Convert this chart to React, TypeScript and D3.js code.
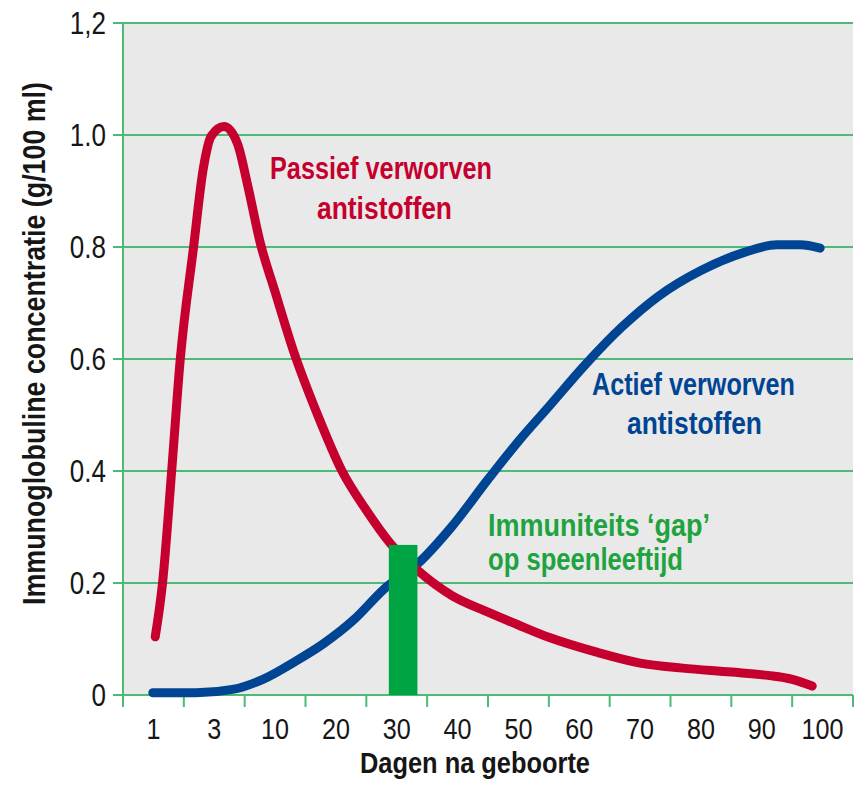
import * as d3 from "d3";

// x positions are in band units along the day axis (0 = left edge of "1", 12 = right edge of "100")
const dayLabels = ["1", "3", "10", "20", "30", "40", "50", "60", "70", "80", "90", "100"];
const yTicks = [0, 0.2, 0.4, 0.6, 0.8, 1.0, 1.2];
const yTickLabels = ["0", "0.2", "0.4", "0.6", "0.8", "1.0", "1,2"];

const passief: [number, number][] = [
  [0.53, 0.104], [0.65, 0.2], [0.8, 0.4], [0.94, 0.598], [1.16, 0.8], [1.32, 0.94],
  [1.45, 0.998], [1.66, 1.015], [1.88, 0.985], [2.05, 0.91], [2.25, 0.81], [2.5, 0.72],
  [2.8, 0.615], [3.2, 0.5], [3.6, 0.4], [4.0, 0.33], [4.4, 0.27], [4.85, 0.222],
  [5.4, 0.178], [6.0, 0.148], [6.5, 0.125], [7.0, 0.103], [7.8, 0.076], [8.5, 0.057],
  [9.2, 0.048], [10.0, 0.041], [10.6, 0.035], [11.0, 0.028], [11.33, 0.016],
];

const actief: [number, number][] = [
  [0.49, 0.004], [1.2, 0.004], [1.8, 0.01], [2.3, 0.028], [2.8, 0.058], [3.3, 0.092],
  [3.8, 0.135], [4.3, 0.19], [4.85, 0.235], [5.4, 0.3], [6.0, 0.385], [6.5, 0.453],
  [7.0, 0.515], [7.6, 0.59], [8.2, 0.657], [8.8, 0.712], [9.5, 0.758], [10.2, 0.79],
  [10.75, 0.804], [11.13, 0.804], [11.46, 0.798],
];

const gapStart = 4.37;
const gapEnd = 4.84;
const gapValue = 0.268;

const RED = "#c6002e";
const BLUE = "#004593";
const GREEN = "#00a443";
const GRID = "#4cbb73";
const INK = "#161616";
const FONT = "'Liberation Sans', Arial, sans-serif";
const SX = 0.84; // narrow the face to look like the condensed original

const W = 858;
const H = 786;
const M = { left: 123, right: 5, top: 23, bottom: 91 };

export default function App() {
  const innerRight = W - M.right;
  const x = d3.scaleLinear().domain([0, dayLabels.length]).range([M.left, 853]);
  const band = d3.scaleBand().domain(dayLabels).range([M.left, 853]);
  const y = d3.scaleLinear().domain([0, 1.2]).range([H - M.bottom, M.top]);
  const y0 = y(0);

  const line = d3
    .line<[number, number]>()
    .x((d) => x(d[0]))
    .y((d) => y(d[1]))
    .curve(d3.curveMonotoneX);

  const xTickPos = d3.range(dayLabels.length + 1);

  return (
    <>
      <style>{`body{margin:0;background:#fff}`}</style>
      <svg width={W} height={H} style={{ display: "block" }} fontFamily={FONT}>
        <rect x={M.left} y={M.top} width={innerRight - M.left} height={y0 - M.top} fill="#e9e9e9" />

        {/* gridlines and ticks */}
        {yTicks.map((t) => (
          <line key={t} x1={113} x2={innerRight} y1={y(t)} y2={y(t)} stroke={GRID} strokeWidth={2} />
        ))}
        <line x1={M.left} x2={M.left} y1={M.top} y2={y0 + 12} stroke={GRID} strokeWidth={2} />
        {xTickPos.map((i) => (
          <line key={i} x1={x(i)} x2={x(i)} y1={y0} y2={y0 + 12} stroke={GRID} strokeWidth={2} />
        ))}

        {yTicks.map((t, i) => (
          <text
            key={t}
            transform={`translate(106,${y(t) + 11}) scale(${SX},1)`}
            textAnchor="end"
            fontSize={31}
            fill={INK}
          >
            {yTickLabels[i]}
          </text>
        ))}
        {dayLabels.map((d) => (
          <text
            key={d}
            transform={`translate(${(band(d) ?? 0) + band.bandwidth() / 2},${y0 + 44}) scale(${SX},1)`}
            textAnchor="middle"
            fontSize={30}
            fill={INK}
          >
            {d}
          </text>
        ))}

        <text x={475} y={773} textAnchor="middle" fontSize={30} fontWeight="bold" fill={INK}
          textLength={230} lengthAdjust="spacingAndGlyphs">
          Dagen na geboorte
        </text>
        <text
          transform="translate(45,343.5) rotate(-90)"
          textAnchor="middle"
          fontSize={31}
          fontWeight="bold"
          fill={INK}
          textLength={523}
          lengthAdjust="spacingAndGlyphs"
        >
          Immunoglobuline concentratie (g/100 ml)
        </text>

        <path d={line(actief) ?? ""} fill="none" stroke={BLUE} strokeWidth={9} strokeLinecap="round" />
        <path d={line(passief) ?? ""} fill="none" stroke={RED} strokeWidth={9} strokeLinecap="round" />

        <rect x={x(gapStart)} y={y(gapValue)} width={x(gapEnd) - x(gapStart)} height={y0 - y(gapValue)} fill={GREEN} />

        <g fontSize={32} fontWeight="bold" fill={RED} textAnchor="middle">
          <text x={381} y={179} textLength={222} lengthAdjust="spacingAndGlyphs">Passief verworven</text>
          <text x={384.5} y={219} textLength={135} lengthAdjust="spacingAndGlyphs">antistoffen</text>
        </g>
        <g fontSize={32} fontWeight="bold" fill={BLUE} textAnchor="middle">
          <text x={693.5} y={395} textLength={203} lengthAdjust="spacingAndGlyphs">Actief verworven</text>
          <text x={694.5} y={434} textLength={135} lengthAdjust="spacingAndGlyphs">antistoffen</text>
        </g>
        <g fontSize={32} fontWeight="bold" fill="#1ea33e">
          <text x={488} y={536} textLength={222} lengthAdjust="spacingAndGlyphs">Immuniteits ‘gap’</text>
          <text x={488} y={570} textLength={195} lengthAdjust="spacingAndGlyphs">op speenleeftijd</text>
        </g>
      </svg>
    </>
  );
}
